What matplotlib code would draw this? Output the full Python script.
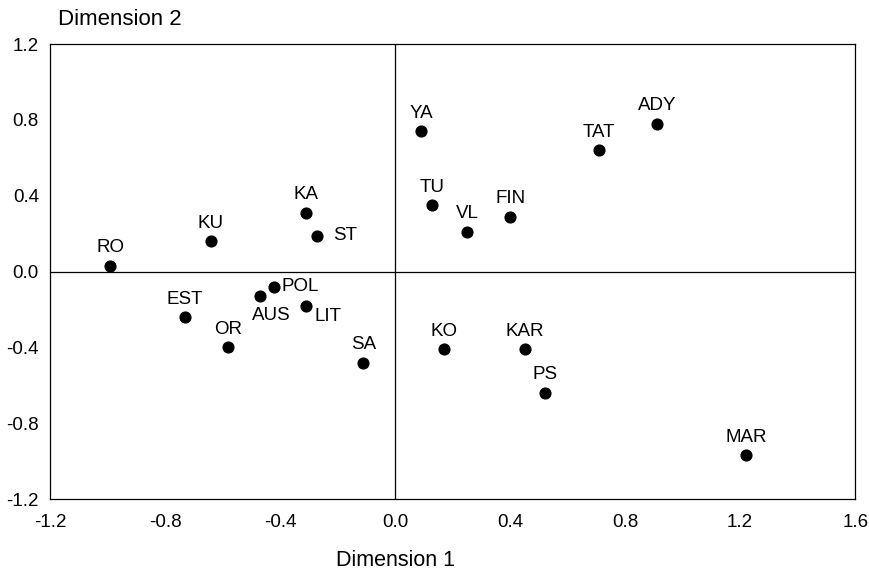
import matplotlib
matplotlib.use("Agg")
import matplotlib.pyplot as plt

plt.rcParams['font.family'] = ['Liberation Sans', 'DejaVu Sans']

# data
names = ["RO", "KU", "KA", "ST", "EST", "POL", "AUS", "LIT", "OR", "SA",
         "YA", "TAT", "ADY", "TU", "VL", "FIN", "KO", "KAR", "PS", "MAR"]
dim1 = [-0.99, -0.64, -0.31, -0.27, -0.73, -0.42, -0.47, -0.31, -0.58, -0.11,
        0.09, 0.71, 0.91, 0.13, 0.25, 0.40, 0.17, 0.45, 0.52, 1.22]
dim2 = [0.03, 0.16, 0.31, 0.19, -0.24, -0.08, -0.13, -0.18, -0.40, -0.48,
        0.74, 0.64, 0.78, 0.35, 0.21, 0.29, -0.41, -0.41, -0.64, -0.97]
ticks = [-1.2, -0.8, -0.4, 0.0, 0.4, 0.8, 1.2, 1.6]
yticks = [-1.2, -0.8, -0.4, 0.0, 0.4, 0.8, 1.2]

# label placement (offset points, ha) - default is centred above the dot
label_pos = {
    "ST": ((11, 0), "left"),
    "POL": ((5, 0), "left"),
    "AUS": ((8, -14), "center"),
    "LIT": ((6, -8), "left"),
}

fig = plt.figure(figsize=(8.7, 5.73), dpi=100)
ax = fig.add_axes([0.0575, 0.129, 0.9255, 0.794])

ax.axhline(0, color="black", lw=0.9)
ax.axvline(0, color="black", lw=0.9)
ax.scatter(dim1, dim2, s=60, color="black", zorder=3)

for n, x, y in zip(names, dim1, dim2):
    off, ha = label_pos.get(n, ((0, 13), "center"))
    ax.annotate(n, xy=(x, y), xytext=off, textcoords="offset points",
                ha=ha, va="center", fontsize=13.5)

ax.set_xlim(-1.2, 1.6)
ax.set_ylim(-1.2, 1.2)
ax.set_xticks(ticks)
ax.set_xticklabels([f"{t:.1f}" for t in ticks])
ax.set_yticks(yticks)
ax.set_yticklabels([f"{t:.1f}" for t in yticks])
ax.tick_params(length=0, labelsize=13.5)
ax.tick_params(axis="x", pad=11)
ax.tick_params(axis="y", pad=8)
for s in ax.spines.values():
    s.set_linewidth(0.9)

fig.text(58 / 870, 1 - 25 / 573, "Dimension 2", fontsize=16, va="baseline", ha="left")
fig.text(396 / 870, 1 - 566 / 573, "Dimension 1", fontsize=15.5, va="baseline", ha="center")

fig.savefig("out.png", dpi=100)
